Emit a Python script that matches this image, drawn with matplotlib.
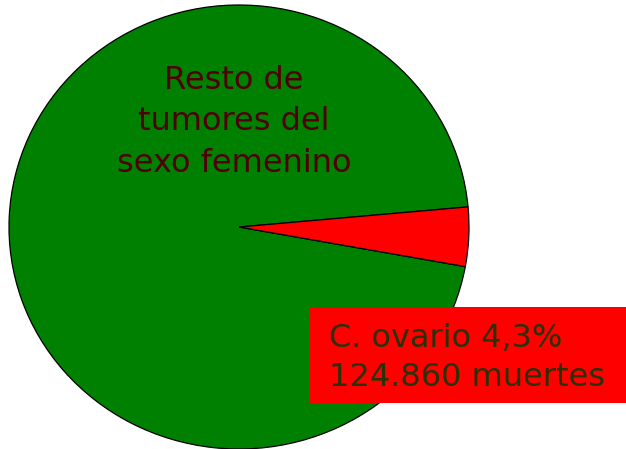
import matplotlib
matplotlib.use('Agg')
import matplotlib.pyplot as plt
from matplotlib.patches import Rectangle

# Data
labels = ['Resto de\ntumores del\nsexo femenino', 'C. ovario 4,3%\n124.860 muertes']
shares = [95.7, 4.3]
colors = ['#008000', '#ff0000']

W, H = 626, 449
fig = plt.figure(figsize=(W / 100, H / 100), dpi=100)
ax = fig.add_axes([0, 0, 1, 1])

# pie, slightly squashed like the original (ellipse)
cx, cy, rx, ry = 239, 227, 230, 222
ax.pie(shares, colors=colors, startangle=5.2, counterclock=True,
       wedgeprops=dict(edgecolor='black', linewidth=0.9))
ax.set_aspect('auto')
ax.set_xlim(-cx / rx, (W - cx) / rx)
ax.set_ylim(-(H - cy) / ry, cy / ry)
ax.axis('off')

# label inside the big slice
fig.text(234 / W, 1 - 122 / H, labels[0], ha='center', va='center',
         fontsize=23, color='#500000', linespacing=1.42)

# red box with the ovary label
fig.add_artist(Rectangle((309 / W, 1 - 403 / H), (W - 309) / W, 96 / H,
                         transform=fig.transFigure, facecolor='#ff0000',
                         edgecolor='none'))
fig.text(329 / W, 1 - 358 / H, labels[1], ha='left', va='center',
         fontsize=23, color='#2a3000', linespacing=1.32)

fig.savefig('out.png', dpi=100)
